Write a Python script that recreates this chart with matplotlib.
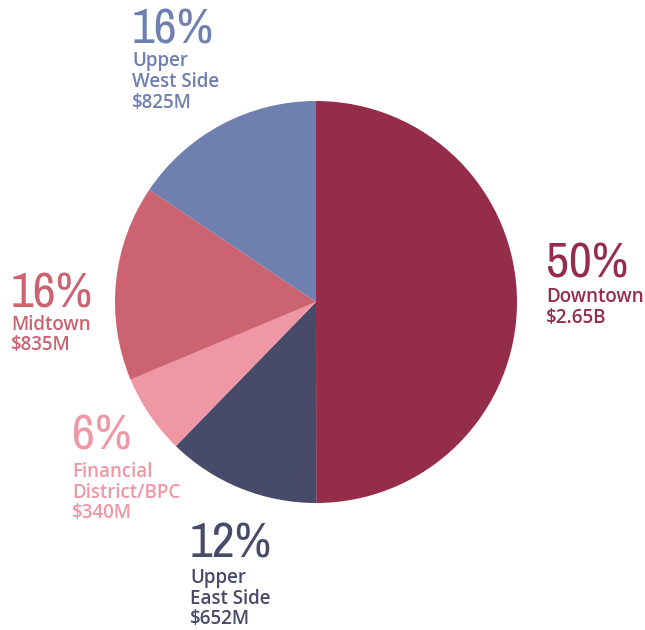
import matplotlib.pyplot as plt
from matplotlib import font_manager

names = [['Downtown'], ['Upper', 'East Side'], ['Financial', 'District/BPC'], ['Midtown'], ['Upper', 'West Side']]
values = [2650, 652, 340, 835, 825]
pct_labels = ['50%', '12%', '6%', '16%', '16%']
money = ['$2.65B', '$652M', '$340M', '$835M', '$825M']
colors = ['#952D4A', '#474A68', '#EF97A5', '#CC6370', '#6F7FAF']

W, H = 645, 630
fig = plt.figure(figsize=(W / 100, H / 100), dpi=100)

cx, cy, r = 316, 302, 201
ax = fig.add_axes([(cx - r) / W, (H - cy - r) / H, 2 * r / W, 2 * r / H])
ax.pie(values, colors=colors, startangle=90, counterclock=False, radius=1,
       wedgeprops=dict(linewidth=0))
ax.set_xlim(-1, 1)
ax.set_ylim(-1, 1)
ax.set_aspect('auto')
ax.axis('off')

# look for a narrow face for the big percentages
narrow = None
for f in font_manager.fontManager.ttflist:
    if 'Narrow' in f.name or 'Condensed' in f.name:
        narrow = f.name
        break
    if f.stretch in ('condensed', 'semi-condensed', 'extra-condensed') and narrow is None:
        narrow = f.name
if narrow:
    big_font, big_size = [narrow, 'DejaVu Sans'], 36
else:
    big_font, big_size = ['DejaVu Sans'], 30
small_font = ['Open Sans', 'DejaVu Sans']

# left x, baseline of the percent, baselines of the text lines (pixels)
lx = [546, 190, 72, 11, 132]
pct_base = [277, 558, 450, 307, 43]
line_base = [[302, 323], [583, 604, 624], [477, 498, 518], [330, 350], [66, 87, 108]]

for i in range(len(values)):
    fig.text(lx[i] / W, 1 - pct_base[i] / H, pct_labels[i], color=colors[i],
             fontsize=big_size, family=big_font, fontstretch='condensed',
             va='baseline', ha='left')
    lines = names[i] + [money[i]]
    for j in range(len(lines)):
        fig.text(lx[i] / W, 1 - line_base[i][j] / H, lines[j], color=colors[i],
                 fontsize=13.5, family=small_font, fontweight='semibold',
                 va='baseline', ha='left')

fig.savefig('out.png', dpi=100)
